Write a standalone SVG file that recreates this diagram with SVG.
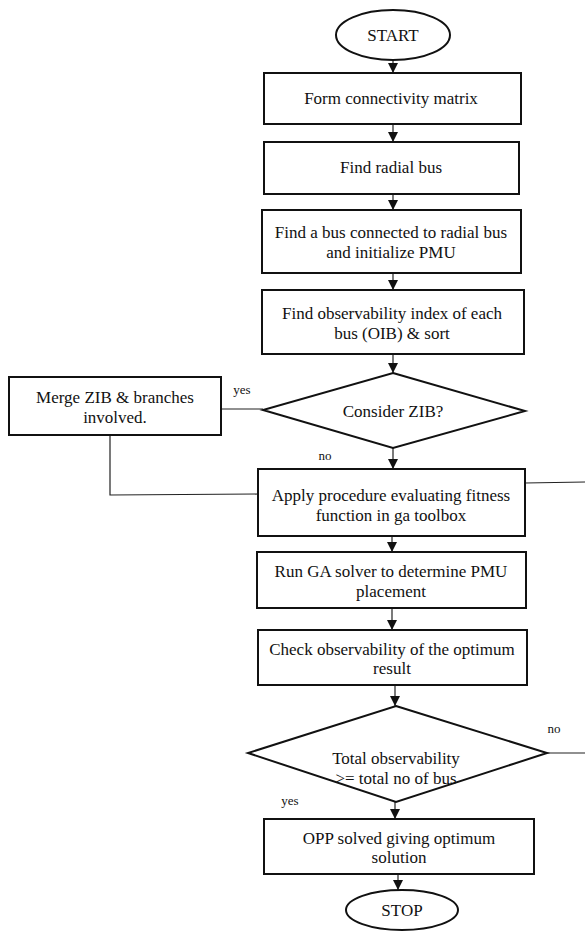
<svg xmlns="http://www.w3.org/2000/svg" width="585" height="933" viewBox="0 0 585 933">
<style>
.shape{fill:#fff;stroke:#111;stroke-width:2}
.t{font-family:"Liberation Serif","Times New Roman",serif;font-size:17px;fill:#111;text-anchor:middle}
.lbl{font-family:"Liberation Serif","Times New Roman",serif;font-size:13px;fill:#111;text-anchor:middle}
.c{fill:none;stroke:#222;stroke-width:1.2}
</style>
<defs>
<marker id="ah" markerUnits="userSpaceOnUse" markerWidth="10" markerHeight="10" refX="10" refY="5" orient="auto">
<path d="M0,0 L10,5 L0,10 z" fill="#111"/>
</marker>
</defs>
<rect width="585" height="933" fill="#fff"/>
<g id="connectors">
<line class="c" x1="393" y1="60" x2="393" y2="73" marker-end="url(#ah)"/>
<line class="c" x1="393" y1="124" x2="393" y2="142" marker-end="url(#ah)"/>
<line class="c" x1="393" y1="194" x2="393" y2="210" marker-end="url(#ah)"/>
<line class="c" x1="393" y1="273" x2="393" y2="290" marker-end="url(#ah)"/>
<line class="c" x1="393" y1="354" x2="393" y2="373" marker-end="url(#ah)"/>
<line class="c" x1="393" y1="448" x2="393" y2="469" marker-end="url(#ah)"/>
<line class="c" x1="392" y1="536" x2="392" y2="552" marker-end="url(#ah)"/>
<line class="c" x1="392" y1="608" x2="392" y2="630" marker-end="url(#ah)"/>
<line class="c" x1="395" y1="685" x2="395" y2="706" marker-end="url(#ah)"/>
<line class="c" x1="395" y1="802" x2="395" y2="819" marker-end="url(#ah)"/>
<line class="c" x1="398" y1="874" x2="398" y2="890" marker-end="url(#ah)"/>
<polyline class="c" points="263,409 221,409"/>
<polyline class="c" points="110,435 110,495 258,494"/>
<line class="c" x1="525" y1="483" x2="585" y2="482"/>
<line class="c" x1="547" y1="753" x2="585" y2="753"/>
<text class="lbl" x="242" y="394">yes</text>
<text class="lbl" x="325" y="460">no</text>
<text class="lbl" x="554" y="733">no</text>
<text class="lbl" x="290" y="805">yes</text>
</g>
<g id="start">
<ellipse class="shape" cx="393" cy="35" rx="57" ry="25"/>
<text class="t" x="393" y="41">START</text>
</g>
<g id="form">
<rect class="shape" x="264" y="73" width="257" height="51"/>
<text class="t" x="391" y="104">Form connectivity matrix</text>
</g>
<g id="radial">
<rect class="shape" x="264" y="142" width="255" height="52"/>
<text class="t" x="391" y="173">Find radial bus</text>
</g>
<g id="findbus">
<rect class="shape" x="262" y="210" width="259" height="63"/>
<text class="t" x="391" y="238">Find a bus connected to radial bus</text>
<text class="t" x="391" y="258">and initialize PMU</text>
</g>
<g id="oib">
<rect class="shape" x="262" y="290" width="262" height="64"/>
<text class="t" x="392" y="319">Find observability index of each</text>
<text class="t" x="392" y="339">bus (OIB) &amp; sort</text>
</g>
<g id="zib">
<polygon class="shape" points="393,373 525,411 393,448 263,410"/>
<text class="t" x="393" y="417">Consider ZIB?</text>
</g>
<g id="merge">
<rect class="shape" x="9" y="377" width="212" height="58"/>
<text class="t" x="115" y="403">Merge ZIB &amp; branches</text>
<text class="t" x="115" y="423">involved.</text>
</g>
<g id="apply">
<rect class="shape" x="258" y="469" width="267" height="67"/>
<text class="t" x="391" y="501">Apply procedure evaluating fitness</text>
<text class="t" x="391" y="521">function in ga toolbox</text>
</g>
<g id="run">
<rect class="shape" x="257" y="552" width="269" height="56"/>
<text class="t" x="391" y="577">Run GA solver to determine PMU</text>
<text class="t" x="391" y="597">placement</text>
</g>
<g id="check">
<rect class="shape" x="258" y="630" width="269" height="55"/>
<text class="t" x="392" y="655">Check observability of the optimum</text>
<text class="t" x="392" y="674">result</text>
</g>
<g id="total">
<polygon class="shape" points="396,706 547,753 396,802 248,753"/>
<text class="t" x="396" y="764">Total observability</text>
<text class="t" x="396" y="784">&gt;= total no of bus</text>
</g>
<g id="opp">
<rect class="shape" x="264" y="819" width="270" height="55"/>
<text class="t" x="399" y="844">OPP solved giving optimum</text>
<text class="t" x="399" y="863">solution</text>
</g>
<g id="stop">
<ellipse class="shape" cx="402" cy="910" rx="56" ry="20"/>
<text class="t" x="402" y="916">STOP</text>
</g>
</svg>
